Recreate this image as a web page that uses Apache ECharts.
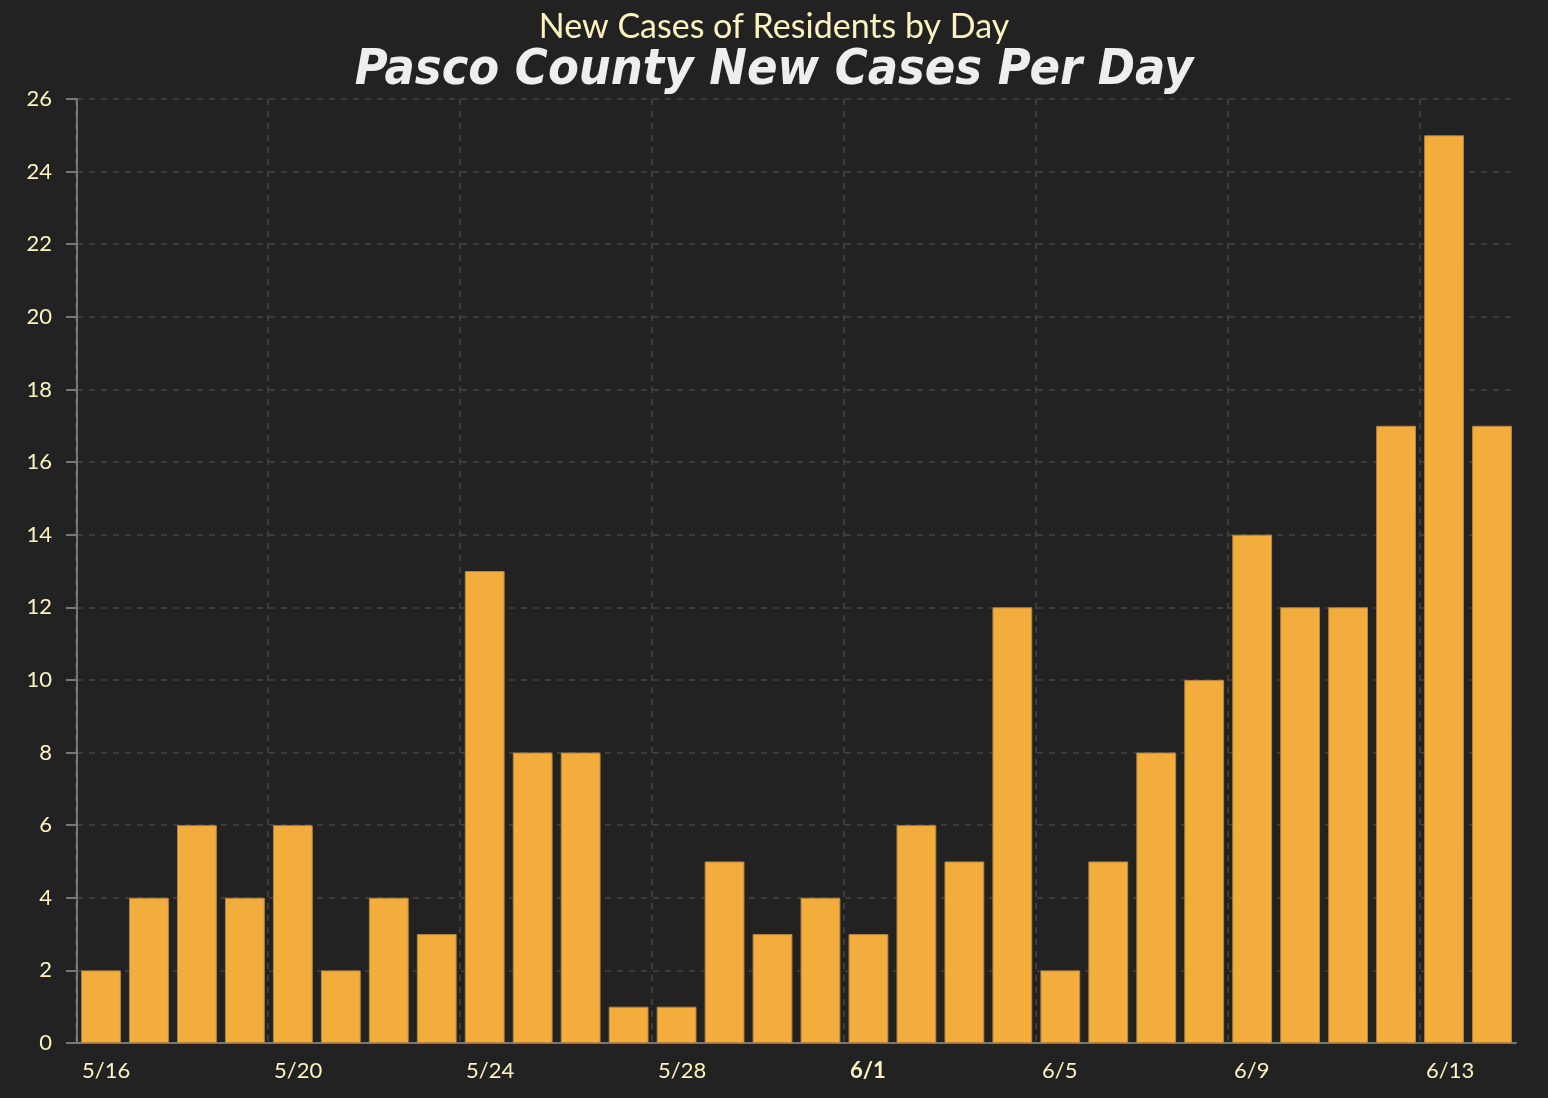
<!DOCTYPE html>
<html><head><meta charset="utf-8">
<script src="https://cdn.jsdelivr.net/npm/echarts@6/dist/echarts.min.js"></script>
<style>html,body{margin:0;padding:0;background:#222222;}#c{width:1548px;height:1098px;}</style>
</head><body><div id="c"></div>
<script>
const categories = ['5/16','5/17','5/18','5/19','5/20','5/21','5/22','5/23','5/24','5/25','5/26','5/27','5/28','5/29','5/30','5/31',
  '6/1','6/2','6/3','6/4','6/5','6/6','6/7','6/8','6/9','6/10','6/11','6/12','6/13','6/14'];
const newCases = [2,4,6,4,6,2,4,3,13,8,8,1,1,5,3,4,3,6,5,12,2,5,8,10,14,12,12,17,25,17];
const titleText = 'Pasco County New Cases Per Day';
const subtitleText = 'New Cases of Residents by Day';

const gridLine = { color: '#3c3c3c', type: [6, 6], width: 2 };
const chart = echarts.init(document.getElementById('c'));
chart.setOption({
  backgroundColor: '#222222',
  animation: false,
  title: [
    { text: subtitleText, left: 'center', top: 5,
      textStyle: { color: '#fcf3c0', fontSize: 34, fontWeight: 'normal', fontFamily: 'Lato' } },
    { text: titleText, left: 'center', top: 41,
      textStyle: { color: '#eeeeee', fontSize: 50, fontWeight: 'bold', fontStyle: 'italic', fontFamily: 'DejaVu Sans Condensed' } }
  ],
  grid: [
    { left: 77, right: 32, top: 99, bottom: 55 },
    { left: 76, right: 128, top: 99, bottom: 55 }
  ],
  xAxis: [{
    type: 'category', data: categories, boundaryGap: true, gridIndex: 0,
    axisLine: { lineStyle: { color: '#777777', width: 2 } },
    axisTick: { interval: 3, length: 9, lineStyle: { color: '#777777', width: 2 } },
    axisLabel: { show: false },
    splitLine: { show: false }
  }, {
    type: 'value', gridIndex: 1, min: 0, max: 28, interval: 4,
    axisLine: { show: false }, axisTick: { show: false },
    axisLabel: { show: true, color: '#fcf3c0', fontSize: 22, fontFamily: 'Lato', margin: 17,
      align: 'left', padding: [0, 0, 0, 6],
      formatter: v => { const c = categories[v]; return c === '6/1' ? '{b|' + c + '}' : c; },
      rich: { b: { fontWeight: 'bold', color: '#fcf3c0', fontSize: 22, fontFamily: 'Lato' } } },
    splitLine: { show: true, lineStyle: gridLine }
  }],
  yAxis: [{
    type: 'value', min: 0, max: 26, interval: 2, gridIndex: 0,
    axisLine: { show: true, lineStyle: { color: '#777777', width: 2 } },
    axisTick: { show: true, length: 11, lineStyle: { color: '#777777', width: 2 } },
    axisLabel: { color: '#fcf3c0', fontSize: 22, fontFamily: 'Lato', margin: 25 },
    splitLine: { lineStyle: gridLine }
  }, {
    type: 'value', min: 0, max: 26, gridIndex: 1, show: false
  }],
  series: [{
    type: 'bar', data: newCases, barCategoryGap: '17%', xAxisIndex: 0, yAxisIndex: 0, z: 3,
    itemStyle: { color: '#f2ad3c', borderColor: '#b8853a', borderWidth: 1 }
  }]
});
</script></body></html>
